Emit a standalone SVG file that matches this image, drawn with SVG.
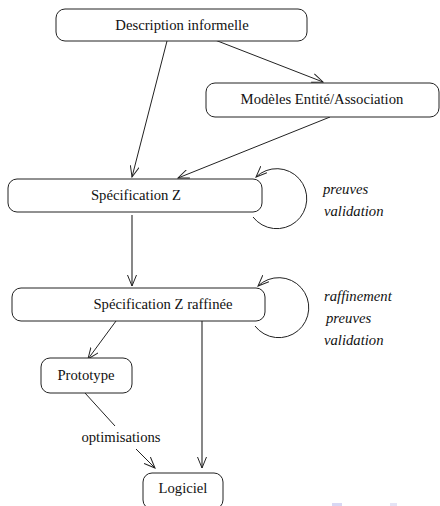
<svg xmlns="http://www.w3.org/2000/svg" width="440" height="506" viewBox="0 0 440 506">
  <style>
    .box { fill: #ffffff; stroke: #222222; stroke-width: 1; }
    .lbl { font-family: "Liberation Serif", "Times New Roman", serif; font-size: 14.7px; fill: #111111; text-anchor: middle; }
    .note { font-family: "Liberation Serif", "Times New Roman", serif; font-size: 14.7px; font-style: italic; fill: #111111; }
    .edge { fill: none; stroke: #222222; stroke-width: 1; }
    .edge.gray { stroke: #555555; stroke-width: 1.4; }
  </style>
  <defs>
    <marker id="arrow" viewBox="0 0 12 10" refX="11" refY="5" markerWidth="12" markerHeight="10" markerUnits="userSpaceOnUse" orient="auto">
      <path d="M0,0.5 L11,5 L0,9.5" fill="none" stroke="#222222" stroke-width="1"/>
    </marker>
  </defs>
  <rect width="440" height="506" fill="#ffffff"/>

  <g id="connectors">
    <line class="edge" x1="215" y1="40" x2="323" y2="82" marker-end="url(#arrow)"/>
    <line class="edge" x1="167" y1="41" x2="132" y2="177" marker-end="url(#arrow)"/>
    <line class="edge" x1="330" y1="117" x2="178" y2="178" marker-end="url(#arrow)"/>
    <path class="edge" d="M253,217 A30,30 0 1 0 256,177" marker-end="url(#arrow)"/>
    <line class="edge gray" x1="132" y1="215" x2="132" y2="286" marker-end="url(#arrow)"/>
    <path class="edge" d="M255,326 A30,30 0 1 0 258,286" marker-end="url(#arrow)"/>
    <line class="edge" x1="116" y1="321" x2="88" y2="359" marker-end="url(#arrow)"/>
    <line class="edge gray" x1="202" y1="321" x2="202" y2="468" marker-end="url(#arrow)"/>
    <line class="edge" x1="85" y1="393" x2="115" y2="426"/>
    <line class="edge" x1="136" y1="449" x2="155" y2="468" marker-end="url(#arrow)"/>
    <text class="lbl" x="121" y="442">optimisations</text>
  </g>

  <g id="description">
    <rect class="box" x="56" y="9" width="251" height="32" rx="9"/>
    <text class="lbl" x="182" y="30">Description informelle</text>
  </g>
  <g id="modeles">
    <rect class="box" x="206" y="83" width="233" height="34" rx="9"/>
    <text class="lbl" x="322" y="104">Modèles Entité/Association</text>
  </g>
  <g id="specz">
    <rect class="box" x="8" y="179" width="254" height="33" rx="9"/>
    <text class="lbl" x="136" y="200">Spécification Z</text>
    <text class="note" x="323" y="194">preuves</text>
    <text class="note" x="324" y="216">validation</text>
  </g>
  <g id="speczr">
    <rect class="box" x="12" y="288" width="253" height="33" rx="9"/>
    <text class="lbl" x="163" y="309">Spécification Z raffinée</text>
    <text class="note" x="324" y="301">raffinement</text>
    <text class="note" x="326" y="323">preuves</text>
    <text class="note" x="324" y="345">validation</text>
  </g>
  <g id="prototype">
    <rect class="box" x="41" y="358" width="91" height="35" rx="9"/>
    <text class="lbl" x="86" y="380">Prototype</text>
  </g>
  <g id="logiciel">
    <rect class="box" x="143" y="473" width="80" height="36" rx="9"/>
    <text class="lbl" x="183" y="493">Logiciel</text>
  </g>

  <rect x="332" y="503" width="10" height="3" fill="#d8d8f4"/>
  <rect x="390" y="503" width="7" height="3" fill="#e4e4f6"/>
</svg>
